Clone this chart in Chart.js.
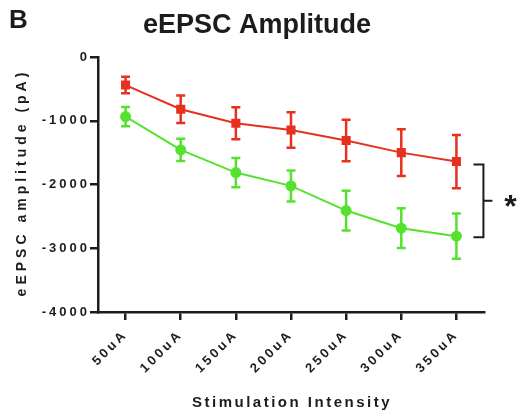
<!DOCTYPE html>
<html>
<head>
<meta charset="utf-8">
<script src="https://cdn.jsdelivr.net/npm/chart.js@4"></script>
<style>
  html, body { margin: 0; padding: 0; background: #fff; }
  #wrap { width: 517px; height: 419px; }
</style>
</head>
<body>
<div id="wrap"><canvas id="chart"></canvas></div>
<script>
const intensities = ["50uA", "100uA", "150uA", "200uA", "250uA", "300uA", "350uA"];
const redMean = [-440, -820, -1040, -1145, -1310, -1500, -1640];
const redSem = [130, 215, 250, 277, 325, 365, 418];
const greenMean = [-935, -1458, -1813, -2022, -2409, -2685, -2810];
const greenSem = [150, 175, 230, 243, 311, 313, 355];
const yTicks = [0, -1000, -2000, -3000, -4000];

const RED = "#e8301f";
const GREEN = "#55e22e";
const INK = "#1c1c1c";
const FONT = "'Liberation Sans', Arial, sans-serif";

// spaced-out tick lettering like the original figure
const spacing = {
  id: "spacing",
  beforeLayout(chart) { chart.ctx.letterSpacing = "3px"; },
  beforeDraw(chart) { chart.ctx.letterSpacing = "3px"; }
};

// error bars, drawn from the sem arrays through the y scale
const errorBars = {
  id: "errorBars",
  afterDatasetsDraw(chart) {
    const ctx = chart.ctx;
    const y = chart.scales.y;
    chart.data.datasets.forEach((ds, i) => {
      const meta = chart.getDatasetMeta(i);
      ctx.save();
      ctx.strokeStyle = ds.borderColor;
      ctx.lineWidth = 2.5;
      meta.data.forEach((pt, j) => {
        const top = y.getPixelForValue(ds.data[j] + ds.sem[j]);
        const bot = y.getPixelForValue(ds.data[j] - ds.sem[j]);
        ctx.beginPath();
        ctx.moveTo(pt.x, top); ctx.lineTo(pt.x, bot);
        ctx.moveTo(pt.x - 4.5, top); ctx.lineTo(pt.x + 4.5, top);
        ctx.moveTo(pt.x - 4.5, bot); ctx.lineTo(pt.x + 4.5, bot);
        ctx.stroke();
      });
      ctx.restore();
    });
  }
};

// panel letter, titles, significance bracket
const extras = {
  id: "extras",
  afterDraw(chart) {
    const ctx = chart.ctx;
    const x = chart.scales.x, y = chart.scales.y;
    const area = chart.chartArea;
    ctx.save();
    ctx.letterSpacing = "0px";
    ctx.fillStyle = INK;
    ctx.textBaseline = "alphabetic";
    ctx.font = "bold 26px " + FONT;
    ctx.textAlign = "left";
    ctx.fillText("B", 9, 28);
    ctx.font = "bold 27px " + FONT;
    ctx.textAlign = "center";
    ctx.fillText("eEPSC Amplitude", 257, 33);

    // axis titles
    ctx.textBaseline = "middle";
    ctx.font = "bold 15px " + FONT;
    ctx.letterSpacing = "2.5px";
    ctx.fillText("Stimulation Intensity", (area.left + area.right) / 2 + 1, 403);
    ctx.save();
    ctx.translate(22, (area.top + area.bottom) / 2);
    ctx.rotate(-Math.PI / 2);
    ctx.font = "bold 14px " + FONT;
    ctx.letterSpacing = "4px";
    ctx.fillText("eEPSC amplitude (pA)", 2, 0);
    ctx.restore();

    ctx.letterSpacing = "0px";
    ctx.textBaseline = "alphabetic";
    const last = intensities.length - 1;
    const bx = x.getPixelForValue(last) + 27;
    const top = y.getPixelForValue(redMean[last]) + 3;
    const bot = y.getPixelForValue(greenMean[last]) + 1;
    ctx.strokeStyle = INK;
    ctx.lineWidth = 2;
    ctx.beginPath();
    ctx.moveTo(bx - 10, top); ctx.lineTo(bx, top); ctx.lineTo(bx, bot); ctx.lineTo(bx - 10, bot);
    ctx.moveTo(bx, (top + bot) / 2); ctx.lineTo(bx + 9, (top + bot) / 2);
    ctx.stroke();
    ctx.font = "bold 32px " + FONT;
    ctx.fillText("*", bx + 27, (top + bot) / 2 + 16);
    ctx.restore();
  }
};

new Chart(document.getElementById("chart"), {
  type: "line",
  data: {
    labels: intensities,
    datasets: [
      {
        label: "red",
        data: redMean,
        sem: redSem,
        borderColor: RED,
        backgroundColor: RED,
        borderWidth: 2,
        pointStyle: "rect",
        pointRadius: 5,
        tension: 0
      },
      {
        label: "green",
        data: greenMean,
        sem: greenSem,
        borderColor: GREEN,
        backgroundColor: GREEN,
        borderWidth: 2,
        pointStyle: "circle",
        pointRadius: 4.5,
        tension: 0
      }
    ]
  },
  options: {
    responsive: true,
    maintainAspectRatio: false,
    animation: false,
    layout: { padding: { top: 57, right: 33, left: 0, bottom: 0 } },
    plugins: {
      legend: { display: false },
      title: { display: false },
      tooltip: { enabled: false }
    },
    scales: {
      x: {
        offset: true,
        grid: { display: true, drawOnChartArea: false, drawTicks: true, tickLength: 8, color: INK, lineWidth: 2.5 },
        border: { display: true, color: INK, width: 2.5 },
        ticks: {
          color: INK,
          font: { family: FONT, size: 13, weight: "bold" },
          minRotation: 45,
          maxRotation: 45,
          padding: 7
        },
        afterFit(scale) { scale.height = 107; }
      },
      y: {
        min: -4000,
        max: 0,
        afterBuildTicks(scale) { scale.ticks = yTicks.map(v => ({ value: v })); },
        grid: { display: true, drawOnChartArea: false, drawTicks: true, tickLength: 8, color: INK, lineWidth: 2.5 },
        border: { display: true, color: INK, width: 2.5 },
        ticks: {
          color: INK,
          font: { family: FONT, size: 13, weight: "bold" },
          padding: 0,
          callback: v => String(v)
        },
        afterFit(scale) { scale.width = 98; }
      }
    }
  },
  plugins: [spacing, errorBars, extras]
});
</script>
</body>
</html>
